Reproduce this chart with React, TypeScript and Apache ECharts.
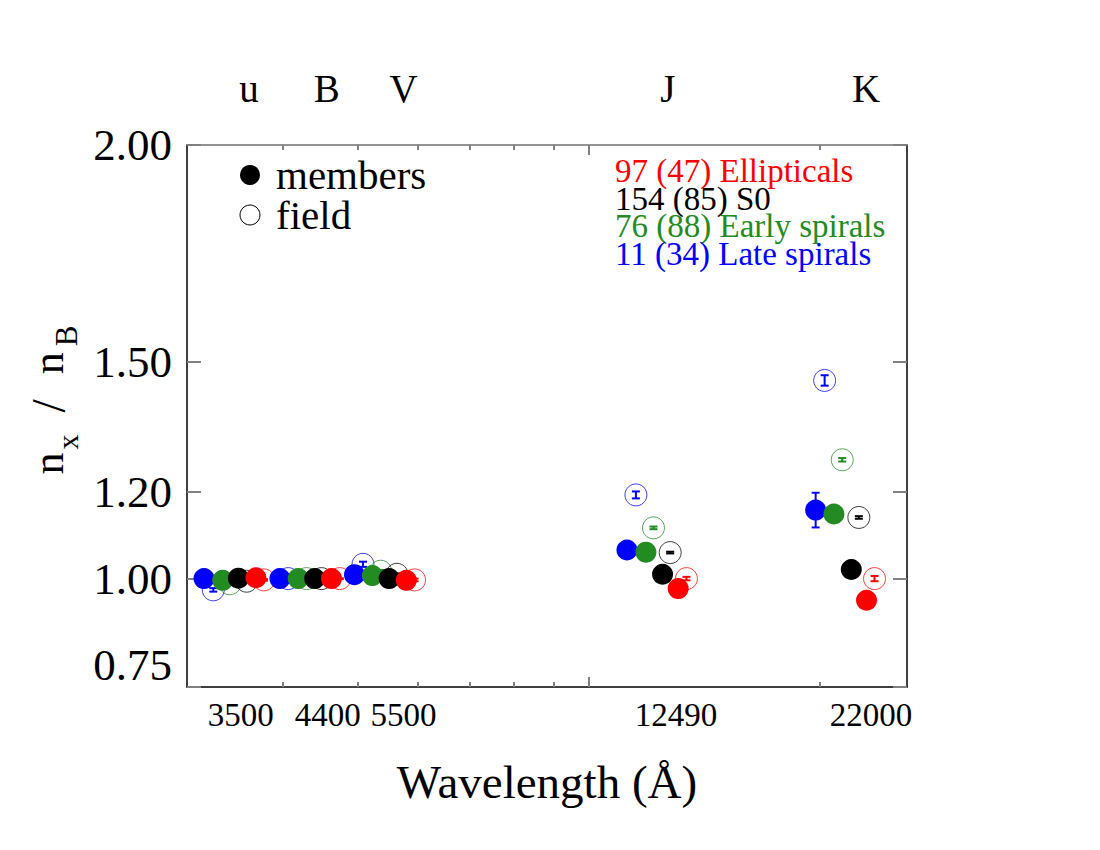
import { useEffect, useRef } from 'react';
import * as echarts from 'echarts';

const FONT = '"Liberation Serif", "Times New Roman", serif';

// ---- axis texts ----
const bandNames = ['u', 'B', 'V', 'J', 'K'];
const wavelengthLabels = ['3500', '4400', '5500', '12490', '22000'];
const yTickValues = [0.75, 1.0, 1.2, 1.5, 2.0];
const minorTickValues = [4000, 5000, 6000, 7000, 8000, 9000, 20000];
const majorTickValues = [10000];

// where (in Å, on the log axis) the band names / wavelength labels are centred
const bandNameAnchors = [3612, 4563, 5744, 12693, 22991];
const wavelengthLabelAnchors = [3526, 4576, 5744, 13002, 23337];

// ---- legend texts ----
const countLabels = ['97 (47) Ellipticals', '154 (85) S0', '76 (88) Early spirals', '11 (34) Late spirals'];
const countColors = ['#ff0000', '#000000', '#228b22', '#0000ff'];
const symbolLegend = ['members', 'field'];

// ---- data: n_x / n_B per band (u, B, V, J, K), members (filled) and field (open) ----
// Late spirals (blue)
const lateMembersX = [3157, 3964, 4957, 11224, 19769];
const lateMembersY = [1.0, 1.0, 1.009, 1.066, 1.158];
const lateMembersErr = [0.004, 0.002, 0.006, 0.006, 0.04];
const lateFieldX = [3246, 4063, 5086, 11531, 20309];
const lateFieldY = [0.974, 1.0, 1.033, 1.193, 1.457];
const lateFieldErr = [0.004, 0.002, 0.006, 0.008, 0.012];

// Early spirals (green)
const earlyMembersX = [3339, 4187, 5231, 11882, 20882];
const earlyMembersY = [0.996, 1.0, 1.007, 1.061, 1.149];
const earlyMembersErr = [0.002, 0.001, 0.003, 0.004, 0.006];
const earlyFieldX = [3412, 4293, 5363, 12155, 21408];
const earlyFieldY = [0.988, 1.0, 1.017, 1.117, 1.274];
const earlyFieldErr = [0.002, 0.001, 0.003, 0.003, 0.004];

// S0 (black)
const s0MembersX = [3500, 4400, 5500, 12490, 22000];
const s0MembersY = [1.001, 1.0, 1.0, 1.01, 1.021];
const s0MembersErr = [0.002, 0.001, 0.002, 0.003, 0.004];
const s0FieldX = [3587, 4490, 5631, 12779, 22504];
const s0FieldY = [0.994, 1.0, 1.01, 1.06, 1.141];
const s0FieldErr = [0.002, 0.001, 0.002, 0.002, 0.003];

// Ellipticals (red)
const ellMembersX = [3689, 4627, 5792, 13089, 23029];
const ellMembersY = [1.002, 1.0, 0.996, 0.977, 0.95];
const ellMembersErr = [0.002, 0.001, 0.002, 0.004, 0.005];
const ellFieldX = [3778, 4743, 5937, 13418, 23587];
const ellFieldY = [0.997, 1.0, 0.997, 1.0, 1.0];
const ellFieldErr = [0.002, 0.001, 0.003, 0.004, 0.006];

const groups = [
  { name: 'Late spirals', color: '#0000ff', mX: lateMembersX, mY: lateMembersY, mE: lateMembersErr, fX: lateFieldX, fY: lateFieldY, fE: lateFieldErr },
  { name: 'Early spirals', color: '#228b22', mX: earlyMembersX, mY: earlyMembersY, mE: earlyMembersErr, fX: earlyFieldX, fY: earlyFieldY, fE: earlyFieldErr },
  { name: 'S0', color: '#000000', mX: s0MembersX, mY: s0MembersY, mE: s0MembersErr, fX: s0FieldX, fY: s0FieldY, fE: s0FieldErr },
  { name: 'Ellipticals', color: '#ff0000', mX: ellMembersX, mY: ellMembersY, mE: ellMembersErr, fX: ellFieldX, fY: ellFieldY, fE: ellFieldErr },
];

const zip3 = (a: number[], b: number[], c: number[]) => a.map((v, i) => [v, b[i], c[i]]);

const nearestLabel = (anchors: number[], labels: string[]) => (v: number) => {
  let best = 0;
  let bd = Infinity;
  anchors.forEach((a, i) => {
    const d = Math.abs(Math.log(a) - Math.log(v));
    if (d < bd) {
      bd = d;
      best = i;
    }
  });
  return labels[best];
};

const errorBarSeries = (name: string, data: number[][], color: string) => ({
  type: 'custom',
  name,
  xAxisIndex: 0,
  yAxisIndex: 0,
  silent: true,
  dimensions: ['x', 'y', 'err'],
  encode: { x: 0, y: 1 },
  data,
  renderItem: (_params: any, api: any) => {
    const x = api.value(0);
    const y = api.value(1);
    const e = api.value(2);
    const hi = api.coord([x, y + e]);
    const lo = api.coord([x, y - e]);
    const cap = 4;
    const style = { stroke: color, lineWidth: 2 };
    return {
      type: 'group',
      children: [
        { type: 'line', shape: { x1: hi[0], y1: hi[1], x2: lo[0], y2: lo[1] }, style },
        { type: 'line', shape: { x1: hi[0] - cap, y1: hi[1], x2: hi[0] + cap, y2: hi[1] }, style },
        { type: 'line', shape: { x1: lo[0] - cap, y1: lo[1], x2: lo[0] + cap, y2: lo[1] }, style },
      ],
    };
  },
});

const X_MIN = 3000;
const X_MAX = 26000;

const baseLogAxis = {
  type: 'log',
  logBase: 10,
  min: X_MIN,
  max: X_MAX,
  gridIndex: 0,
  splitLine: { show: false },
  minorTick: { show: false },
  minorSplitLine: { show: false },
};

const tickStyle = { color: '#808080', width: 2 };

function buildOption() {
  const series: any[] = [];
  groups.forEach((g) => {
    series.push(errorBarSeries(g.name + ' field err', zip3(g.fX, g.fY, g.fE), g.color));
  });
  groups.forEach((g) => {
    series.push({
      type: 'scatter',
      name: g.name + ' field',
      xAxisIndex: 0,
      yAxisIndex: 0,
      symbol: 'circle',
      symbolSize: 22,
      data: g.fX.map((x, i) => [x, g.fY[i]]),
      itemStyle: { color: 'rgba(255,255,255,0)', borderColor: g.color, borderWidth: 1, opacity: 0.75 },
    });
  });
  groups.forEach((g) => {
    series.push(errorBarSeries(g.name + ' members err', zip3(g.mX, g.mY, g.mE), g.color));
    series.push({
      type: 'scatter',
      name: g.name + ' members',
      xAxisIndex: 0,
      yAxisIndex: 0,
      symbol: 'circle',
      symbolSize: 21,
      data: g.mX.map((x, i) => [x, g.mY[i]]),
      itemStyle: { color: g.color, opacity: 1 },
    });
  });

  const graphic: any[] = [
    { type: 'circle', shape: { cx: 250, cy: 175, r: 10 }, style: { fill: '#000' } },
    { type: 'circle', shape: { cx: 250, cy: 215, r: 10 }, style: { fill: 'none', stroke: '#000', lineWidth: 1 } },
    {
      type: 'text',
      x: 276,
      y: 175,
      style: { text: symbolLegend[0], font: `41px ${FONT}`, fill: '#000', verticalAlign: 'middle', align: 'left' },
    },
    {
      type: 'text',
      x: 276,
      y: 215,
      style: { text: symbolLegend[1], font: `41px ${FONT}`, fill: '#000', verticalAlign: 'middle', align: 'left' },
    },
    {
      // y-axis title n_x / n_B, rotated to read bottom-to-top
      type: 'text',
      x: 53,
      y: 400,
      rotation: Math.PI / 2,
      style: {
        text: '{n|n}{x|x}{sl| / }{n2|n}{b|B}',
        align: 'center',
        verticalAlign: 'middle',
        fill: '#000',
        font: `44px ${FONT}`,
        rich: {
          n: { fontFamily: FONT, fontSize: 44, fill: '#000', verticalAlign: 'bottom', padding: [0, 0, 12, 0] },
          x: { fontFamily: FONT, fontSize: 30, fill: '#000', verticalAlign: 'bottom', padding: [0, 0, 0, 3] },
          sl: { fontFamily: FONT, fontSize: 48, fill: '#000', verticalAlign: 'bottom', padding: [0, 9, 10, 10] },
          n2: { fontFamily: FONT, fontSize: 44, fill: '#000', verticalAlign: 'bottom', padding: [0, 0, 12, 4] },
          b: { fontFamily: FONT, fontSize: 31, fill: '#000', verticalAlign: 'bottom', padding: [0, 0, 0, 6] },
        },
      },
    },
  ];
  countLabels.forEach((t, i) => {
    graphic.push({
      type: 'text',
      x: 615,
      y: 171 + i * 27.7,
      style: { text: t, font: `33px ${FONT}`, fill: countColors[i], verticalAlign: 'middle', align: 'left' },
    });
  });

  return {
    animation: false,
    backgroundColor: '#ffffff',
    grid: { left: 187, top: 145, width: 720, height: 542, containLabel: false, outerBoundsMode: 'none' },
    xAxis: [
      {
        ...baseLogAxis,
        position: 'bottom',
        axisLine: { show: true, onZero: false, lineStyle: { color: '#000', width: 1.5 } },
        axisTick: { show: true, inside: true, length: 5, customValues: minorTickValues, lineStyle: tickStyle },
        axisLabel: {
          show: true,
          customValues: wavelengthLabelAnchors,
          formatter: nearestLabel(wavelengthLabelAnchors, wavelengthLabels),
          fontFamily: FONT,
          fontSize: 33,
          color: '#000',
          margin: 11,
        },
        name: 'Wavelength (Å)',
        nameLocation: 'middle',
        nameGap: 71,
        nameTextStyle: { fontFamily: FONT, fontSize: 47, color: '#000' },
      },
      {
        ...baseLogAxis,
        position: 'bottom',
        axisLine: { show: false },
        axisTick: { show: true, inside: true, length: 10, customValues: majorTickValues, lineStyle: tickStyle },
        axisLabel: { show: false },
      },
      {
        ...baseLogAxis,
        position: 'top',
        axisLine: { show: true, onZero: false, lineStyle: { color: '#707070', width: 1.5 } },
        axisTick: { show: true, inside: true, length: 5, customValues: minorTickValues, lineStyle: tickStyle },
        axisLabel: {
          show: true,
          customValues: bandNameAnchors,
          formatter: nearestLabel(bandNameAnchors, bandNames),
          fontFamily: FONT,
          fontSize: 39,
          color: '#000',
          margin: 37,
        },
      },
      {
        ...baseLogAxis,
        position: 'top',
        axisLine: { show: false },
        axisTick: { show: true, inside: true, length: 10, customValues: majorTickValues, lineStyle: tickStyle },
        axisLabel: { show: false },
      },
    ],
    yAxis: [
      {
        type: 'value',
        min: 0.75,
        max: 2.0,
        position: 'left',
        gridIndex: 0,
        splitLine: { show: false },
        axisLine: { show: true, onZero: false, lineStyle: { color: '#000', width: 1.5 } },
        axisTick: { show: true, inside: true, length: 14, customValues: yTickValues, lineStyle: tickStyle },
        axisLabel: {
          show: true,
          customValues: yTickValues,
          formatter: (v: number) => v.toFixed(2),
          fontFamily: FONT,
          fontSize: 45,
          color: '#000',
          margin: 15,
          verticalAlignMinLabel: 'bottom',
        },
      },
      {
        type: 'value',
        min: 0.75,
        max: 2.0,
        position: 'right',
        gridIndex: 0,
        splitLine: { show: false },
        axisLine: { show: true, onZero: false, lineStyle: { color: '#000', width: 1.5 } },
        axisTick: { show: true, inside: true, length: 14, customValues: yTickValues, lineStyle: tickStyle },
        axisLabel: { show: false },
      },
    ],
    series,
    graphic,
  };
}

export default function App() {
  const ref = useRef<HTMLDivElement>(null);
  useEffect(() => {
    if (!ref.current) return;
    const chart = echarts.init(ref.current, null, { renderer: 'svg' });
    chart.setOption(buildOption() as any);
    return () => chart.dispose();
  }, []);
  return (
    <div
      ref={ref}
      style={{ position: 'absolute', left: 0, top: 0, width: 1100, height: 850, background: '#fff' }}
    />
  );
}
